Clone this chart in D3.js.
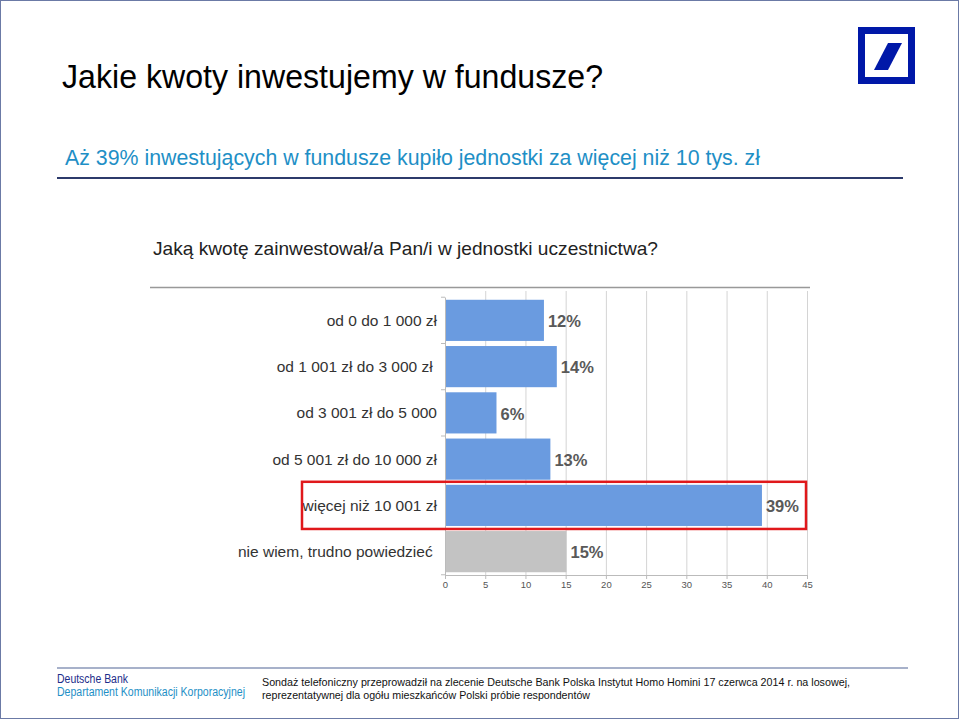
<!DOCTYPE html>
<html><head><meta charset="utf-8">
<script src="https://cdn.jsdelivr.net/npm/d3@7"></script>
<style>body{margin:0;background:#fff}svg{display:block}</style>
</head><body>
<script>
const categories = ["od 0 do 1 000 zł","od 1 001 zł do 3 000 zł ","od 3 001 zł do 5 000","od 5 001 zł do 10 000 zł","więcej niż 10 001 zł","nie wiem, trudno powiedzieć "];
const values = [12.3, 13.9, 6.4, 13.1, 39.4, 15.1];
const valueLabels = ["12%","14%","6%","13%","39%","15%"];
const barColors = ["#6a9be0","#6a9be0","#6a9be0","#6a9be0","#6a9be0","#c3c3c3"];
const xTicks = [0,5,10,15,20,25,30,35,40,45];
const highlighted = "więcej niż 10 001 zł";

const W=960,H=720;
const svg=d3.select("body").append("svg").attr("width",W).attr("height",H);
const font="Liberation Sans, Arial, sans-serif";

// frame
svg.append("rect").attr("x",0.5).attr("y",0.5).attr("width",W-2).attr("height",H-2).attr("fill","none").attr("stroke","#6b7aa6").attr("stroke-width",1);

svg.append("text").attr("x",62).attr("y",88).attr("font-family",font).attr("font-size",34).attr("fill","#000")
 .attr("textLength",541).attr("lengthAdjust","spacingAndGlyphs").text("Jakie kwoty inwestujemy w fundusze?");
svg.append("text").attr("x",65).attr("y",165).attr("font-family",font).attr("font-size",21.5).attr("fill","#1e8fc6")
 .attr("textLength",695).attr("lengthAdjust","spacingAndGlyphs").text("Aż 39% inwestujących w fundusze kupiło jednostki za więcej niż 10 tys. zł");
svg.append("line").attr("x1",57).attr("x2",903).attr("y1",178).attr("y2",178).attr("stroke","#2c3a6b").attr("stroke-width",2);

// logo
const lg=svg.append("g");
lg.append("rect").attr("x",861.5).attr("y",30.5).attr("width",50).attr("height",50).attr("fill","none").attr("stroke","#0018a8").attr("stroke-width",7);
lg.append("path").attr("d","M888,43 L902,43 L888,70 L874,70 Z").attr("fill","#0018a8");

// chart title
svg.append("text").attr("x",153).attr("y",255).attr("font-family",font).attr("font-size",19).attr("fill","#222")
 .attr("textLength",505).attr("lengthAdjust","spacingAndGlyphs").text("Jaką kwotę zainwestował/a Pan/i w jednostki uczestnictwa?");
svg.append("line").attr("x1",150).attr("x2",810).attr("y1",287.5).attr("y2",287.5).attr("stroke","#999").attr("stroke-width",1.5);

const x=d3.scaleLinear().domain([0,45]).range([445,807]);
const y=d3.scaleBand().domain(categories).range([297,575]).paddingInner(0.11).paddingOuter(0.06);

// grid
svg.append("g").selectAll("line").data(xTicks.slice(1)).join("line")
 .attr("x1",d=>x(d)+0.5).attr("x2",d=>x(d)+0.5).attr("y1",291).attr("y2",575).attr("stroke","#d4d4d4");

const xa=svg.append("g").attr("transform","translate(0,575)").call(d3.axisBottom(x).tickValues(xTicks).tickSize(4).tickSizeOuter(0));
xa.select(".domain").attr("stroke","#bbb");
xa.selectAll(".tick line").attr("stroke","#bbb");
xa.selectAll("text").attr("font-family",font).attr("font-size",9.5).attr("fill","#555").attr("dy","0.6em");

const ya=svg.append("g").attr("transform","translate(445,0)").call(d3.axisLeft(y).tickSize(0).tickFormat(""));
ya.select(".domain").attr("stroke","#bbb");
// band boundary ticks
const step=y.step();
svg.append("g").selectAll("line").data(d3.range(categories.length+1)).join("line")
 .attr("x1",441).attr("x2",445).attr("y1",(d,i)=>y(categories[0])-y.paddingInner()*step/2+i*step).attr("y2",(d,i)=>y(categories[0])-y.paddingInner()*step/2+i*step).attr("stroke","#bbb");

svg.append("g").selectAll("rect").data(categories).join("rect")
 .attr("x",x(0)+1).attr("y",d=>y(d)).attr("height",y.bandwidth())
 .attr("width",(d,i)=>x(values[i])-x(0)-1).attr("fill",(d,i)=>barColors[i]);

svg.append("g").selectAll("text").data(categories).join("text")
 .attr("x",437).attr("y",d=>y(d)+y.bandwidth()/2).attr("dy","0.35em").attr("text-anchor","end")
 .attr("xml:space","preserve").style("white-space","pre")
 .attr("font-family",font).attr("font-size",15.5).attr("fill","#333").text(d=>d);

svg.append("g").selectAll("text").data(categories).join("text")
 .attr("x",(d,i)=>x(values[i])+4).attr("y",d=>y(d)+y.bandwidth()/2+1).attr("dy","0.35em")
 .attr("font-family",font).attr("font-size",16.5).attr("font-weight","bold").attr("fill","#595959").text((d,i)=>valueLabels[i]);

// highlight
svg.append("rect").attr("x",302).attr("y",y(highlighted)-3).attr("width",504).attr("height",y.bandwidth()+6)
 .attr("fill","none").attr("stroke","#e0181b").attr("stroke-width",2.5);

// footer
svg.append("line").attr("x1",57).attr("x2",908).attr("y1",668).attr("y2",668).attr("stroke","#8a97b8").attr("stroke-width",1.5);
svg.append("text").attr("x",57).attr("y",683).attr("font-family",font).attr("font-size",12).attr("fill","#1c2d8a")
 .attr("textLength",71).attr("lengthAdjust","spacingAndGlyphs").text("Deutsche Bank");
svg.append("text").attr("x",57).attr("y",696).attr("font-family",font).attr("font-size",12).attr("fill","#1e8fc6")
 .attr("textLength",188).attr("lengthAdjust","spacingAndGlyphs").text("Departament Komunikacji Korporacyjnej");
svg.append("text").attr("x",262).attr("y",686).attr("font-family",font).attr("font-size",11).attr("fill","#111")
 .attr("textLength",588).attr("lengthAdjust","spacingAndGlyphs").text("Sondaż telefoniczny przeprowadził na zlecenie Deutsche Bank Polska Instytut Homo Homini 17 czerwca 2014 r. na losowej,");
svg.append("text").attr("x",262).attr("y",699).attr("font-family",font).attr("font-size",11).attr("fill","#111")
 .attr("textLength",328).attr("lengthAdjust","spacingAndGlyphs").text("reprezentatywnej dla ogółu mieszkańców Polski próbie respondentów");
</script>
</body></html>
